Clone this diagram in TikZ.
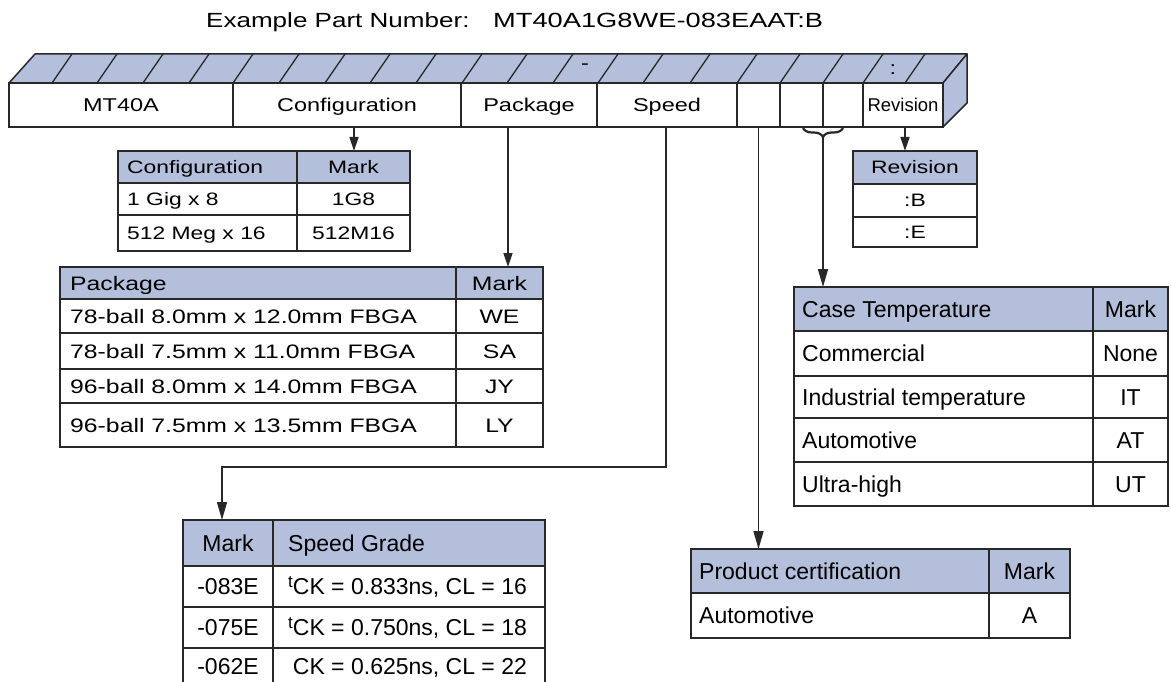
\documentclass[tikz,border=0pt]{standalone}
\usepackage{fontspec}
\setmainfont{Liberation Sans}
\newfontfamily\widefont{Liberation Sans}[FakeStretch=1.27]
\newfontfamily\widerfont{Liberation Sans}[FakeStretch=1.33]
\usetikzlibrary{arrows.meta,decorations.pathreplacing}
\definecolor{hdr}{RGB}{179,191,219}
\definecolor{ln}{RGB}{40,40,40}
\newcommand\padL{9pt}
\newcommand\supt{\raisebox{7pt}{\fontsize{17}{17}\selectfont t}}
\newcommand\Lc[7]{\node[cell,minimum width=#4pt,minimum height=#5pt,#6] (#1) at (#2,#3) {};
 \node[anchor=west,inner sep=0pt] (#1x) at ([xshift=\padL]#1.west) {#7};}
\newcommand\Cc[7]{\node[cell,minimum width=#4pt,minimum height=#5pt,#6] (#1) at (#2,#3) {#7};}
\begin{document}
\begin{tikzpicture}[x=1pt,y=-1pt,
  cell/.style={draw=ln,line width=1.5pt,anchor=north west,inner sep=0pt,outer sep=0pt},
  hd/.style={fill=hdr},
  wh/.style={fill=white},
  arrA/.style={draw=ln,line width=1.5pt,-{Triangle[length=14pt,width=9pt]}},
  arrB/.style={draw=ln,line width=1.5pt,-{Triangle[length=18pt,width=10pt]}},
  brc/.style={draw=ln,line width=2.2pt,decorate,decoration={brace,mirror,amplitude=9pt}},
  bar/.style={draw=ln,line width=1.5pt,line join=round},
  fT/.style={font=\widefont\fontsize{20.5}{24}\selectfont},
  fBar/.style={font=\widefont\fontsize{18.5}{22}\selectfont,every node/.append style={text height=13.2pt,text depth=0pt}},
  fCfg/.style={font=\widefont\fontsize{18}{21}\selectfont,every node/.append style={text height=12.9pt,text depth=0pt}},
  fPkg/.style={font=\widefont\fontsize{19.5}{23}\selectfont,every node/.append style={text height=14pt,text depth=0pt}},
  fLow/.style={font=\fontsize{23}{27}\selectfont,every node/.append style={text height=16.5pt,text depth=0pt}}]
\useasboundingbox (0,0) rectangle (1171,682);

% title
\node[fT,anchor=base west,inner sep=0pt] (title1) at (206,28) {Example Part Number:};
\node[font=\widerfont\fontsize{20.5}{24}\selectfont,anchor=base west,inner sep=0pt] (title2) at (493,28) {MT40A1G8WE-083EAAT:B};

% bar: top and side faces
\draw[bar,fill=hdr] (9,83) -- (35,54) -- (967,54) -- (943,83) -- cycle;
\draw[bar,fill=hdr] (943,83) -- (967,54) -- (967,103) -- (943,127) -- cycle;
\foreach \sx in {52,97,143,189,233,279,325,370,416,462,507,553,598,643,690,737,780,823,863,905}
  \draw[ln,line width=1.3pt] (\sx,83) -- (\sx+20,54);
\node[font=\widefont\fontsize{18.5}{22}\selectfont,inner sep=0pt] (dash) at (585,67) {-};
\node[font=\widefont\fontsize{18.5}{22}\selectfont,inner sep=0pt] (colon) at (893,70) {:};

% bar: front cells
\begin{scope}[fBar]
\Cc{b1}{9}{83}{224}{44}{wh}{MT40A}
\Cc{b2}{233}{83}{228}{44}{wh}{Configuration}
\Cc{b3}{461}{83}{136}{44}{wh}{Package}
\Cc{b4}{597}{83}{140}{44}{wh}{Speed}
\Cc{b5}{737}{83}{43}{44}{wh}{}
\Cc{b6}{780}{83}{43}{44}{wh}{}
\Cc{b7}{823}{83}{40}{44}{wh}{}
\Cc{b8}{863}{83}{80}{44}{wh,font=\fontsize{18.5}{22}\selectfont}{Revision}
\end{scope}

% configuration table
\begin{scope}[fCfg]
\renewcommand\padL{9pt}
\Lc{cfgH1}{118}{151}{179}{32}{hd}{Configuration}
\Cc{cfgH2}{297}{151}{113}{32}{hd}{Mark}
\Lc{cfgA1}{118}{183}{179}{32}{}{1 Gig x 8}
\Cc{cfgA2}{297}{183}{113}{32}{}{1G8}
\Lc{cfgB1}{118}{215}{179}{36}{}{512 Meg x 16}
\Cc{cfgB2}{297}{215}{113}{36}{}{512M16}
\end{scope}

% revision table
\begin{scope}[fCfg]
\Cc{revH}{853}{151}{124}{33}{hd}{Revision}
\Cc{revB}{853}{184}{124}{33}{}{:B}
\Cc{revE}{853}{217}{124}{30}{}{:E}
\end{scope}

% package table
\begin{scope}[fPkg]
\renewcommand\padL{10pt}
\Lc{pkH1}{60}{267}{396}{32}{hd}{Package}
\Cc{pkH2}{456}{267}{87}{32}{hd}{Mark}
\Lc{pkA1}{60}{299}{396}{34}{}{78-ball 8.0mm x 12.0mm FBGA}
\Cc{pkA2}{456}{299}{87}{34}{}{WE}
\Lc{pkB1}{60}{333}{396}{36}{}{78-ball 7.5mm x 11.0mm FBGA}
\Cc{pkB2}{456}{333}{87}{36}{}{SA}
\Lc{pkC1}{60}{369}{396}{34}{}{96-ball 8.0mm x 14.0mm FBGA}
\Cc{pkC2}{456}{369}{87}{34}{}{JY}
\Lc{pkD1}{60}{403}{396}{44}{}{96-ball 7.5mm x 13.5mm FBGA}
\Cc{pkD2}{456}{403}{87}{44}{}{LY}
\end{scope}

% case temperature table
\begin{scope}[fLow]
\renewcommand\padL{8pt}
\Lc{caH1}{794}{287}{299}{44}{hd}{Case Temperature}
\Cc{caH2}{1093}{287}{75}{44}{hd}{Mark}
\Lc{caA1}{794}{331}{299}{45}{}{Commercial}
\Cc{caA2}{1093}{331}{75}{45}{}{None}
\Lc{caB1}{794}{376}{299}{42}{}{Industrial temperature}
\Cc{caB2}{1093}{376}{75}{42}{}{IT}
\Lc{caC1}{794}{418}{299}{44}{}{Automotive}
\Cc{caC2}{1093}{418}{75}{44}{}{AT}
\Lc{caD1}{794}{462}{299}{44}{}{Ultra-high}
\Cc{caD2}{1093}{462}{75}{44}{}{UT}
\end{scope}

% speed grade table
\begin{scope}[fLow]
\renewcommand\padL{15pt}
\Cc{spH1}{183}{520}{90}{46}{hd}{Mark}
\Lc{spH2}{273}{520}{272}{46}{hd}{Speed Grade}
\Cc{spA1}{183}{566}{90}{41}{}{-083E}
\Lc{spA2}{273}{566}{272}{41}{}{\supt CK = 0.833ns, CL = 16}
\Cc{spB1}{183}{607}{90}{41}{}{-075E}
\Lc{spB2}{273}{607}{272}{41}{}{\supt CK = 0.750ns, CL = 18}
\Cc{spC1}{183}{648}{90}{36}{}{-062E}
\Lc{spC2}{273}{648}{272}{36}{}{\phantom{\supt}CK = 0.625ns, CL = 22}
\end{scope}

% product certification table
\begin{scope}[fLow]
\renewcommand\padL{8pt}
\Lc{prH1}{691}{549}{298}{44}{hd}{Product certification}
\Cc{prH2}{989}{549}{81}{44}{hd}{Mark}
\Lc{prA1}{691}{593}{298}{45}{}{Automotive}
\Cc{prA2}{989}{593}{81}{45}{}{A}
\end{scope}

% connectors
\coordinate (pCfg) at (354,127);
\draw[arrA] (pCfg) -- (pCfg |- cfgH1.north);
\coordinate (pPkg) at (508,127);
\draw[arrA] (pPkg) -- (pPkg |- pkH1.north);
\coordinate (pRev) at (905,127);
\draw[arrA] (pRev) -- (pRev |- revH.north);
\coordinate (pSpd) at (666,127);
\coordinate (kSpd) at (222,467);
\draw[arrB] (pSpd) |- (kSpd) -- (kSpd |- spH1.north);
\draw[arrB] (b5.south) -- (b5.south |- prH1.north);
\coordinate (brL) at (803,128);
\coordinate (brR) at (843,128);
\draw[brc] (brL) -- (brR);
\coordinate (brT) at (823,137);
\draw[arrB] (brT) -- (brT |- caH1.north);
\end{tikzpicture}
\end{document}
